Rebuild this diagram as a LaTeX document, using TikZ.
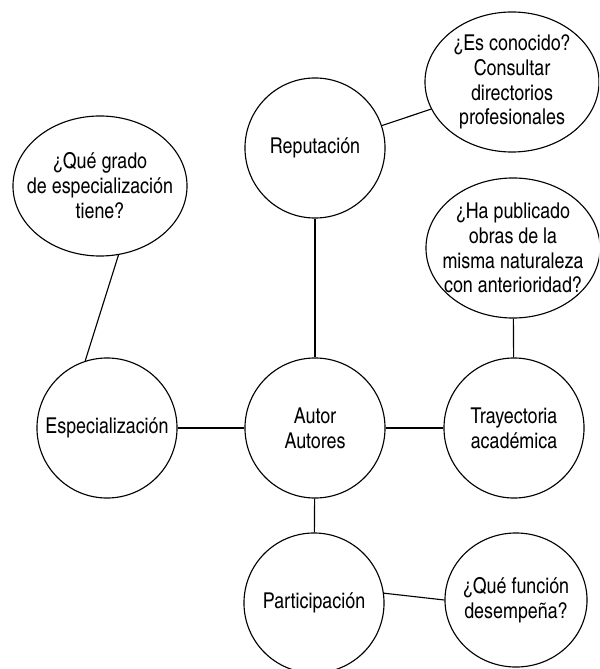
\documentclass[tikz,border=0pt]{standalone}
\usepackage{fontspec}
\setmainfont{TeX Gyre Heros Cn}
\usetikzlibrary{shapes.geometric}

\begin{document}
\begin{tikzpicture}[x=0.025cm,y=-0.025cm,line width=0.8pt]
\tikzstyle{topic} =[circle, draw, inner sep=0pt, minimum size=3.5cm, align=center, font=\fontsize{15.5}{17.7}\selectfont]
\tikzstyle{question} =[ellipse, draw, inner sep=-0.6cm, minimum width=4.35cm, minimum height=3.5cm, align=center, font=\fontsize{15.5}{17.7}\selectfont]

\useasboundingbox (0,0) rectangle (599,669);
\clip (0,0) rectangle (599,669);

\node[topic](aut) at (315,428){Autor\\Autores};
\node[topic](rep) at (315,148){Reputación};
\node[topic](esp) at (107,428){Especialización};
\node[topic](tra) at (514,428){Trayectoria\\académica};
\node[topic](par) at (314,603){Participación};

\node[question](con) at (512,82){¿Es conocido?\\Consultar\\directorios\\profesionales};
\node[question](gra) at (100,186){¿Qué grado\\de especialización\\tiene?};
\node[question](pub) at (513,248){¿Ha publicado\\obras de la\\misma naturaleza\\con anterioridad?};
\node[question,minimum width=3.55cm,minimum height=3.35cm](fun) at (516,600){¿Qué función\\desempeña?};

\draw (rep) -- (aut);
\draw (esp) -- (aut);
\draw (aut) -- (tra);
\draw (aut) -- (par);
\draw (rep) -- (con);
\draw (gra.285) -- (esp.108);
\draw (pub) -- (tra);
\draw (par.8) -- (fun.180);

\end{tikzpicture}
\end{document}
